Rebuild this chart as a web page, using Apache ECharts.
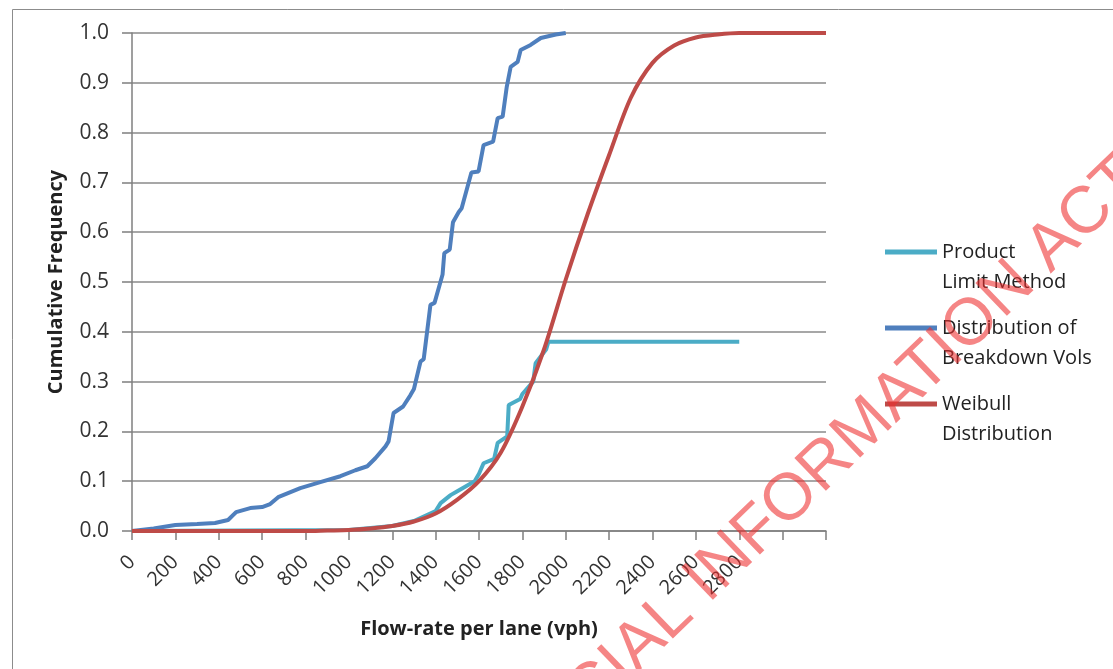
<!DOCTYPE html>
<html>
<head>
<meta charset="utf-8">
<script src="https://cdn.jsdelivr.net/npm/echarts@6/dist/echarts.min.js"></script>
<style>
html,body{margin:0;padding:0;background:#fff;}
#chart{width:1113px;height:669px;}
</style>
</head>
<body>
<div id="chart"></div>
<script>
// ---- data ----
const seriesNames = ['Product\nLimit Method', 'Distribution of\nBreakdown Vols', 'Weibull\nDistribution'];
const xTickLabels = ['0','200','400','600','800','1000','1200','1400','1600','1800','2000','2200','2400','2600','2800','',''];

// Product Limit Method (vph, cumulative frequency)
const plmX = [0,1000,1200,1300,1400,1423,1469,1500,1580,1600,1621,1670,1686,1730,1737,1790,1800,1850,1861,1910,1920,2800];
const plmY = [0,0.002,0.01,0.02,0.04,0.056,0.072,0.08,0.10,0.115,0.136,0.145,0.177,0.19,0.253,0.265,0.275,0.30,0.337,0.365,0.38,0.38];

// Distribution of Breakdown Vols
const bdX = [0,100,200,300,383,443,480,545,600,637,674,776,868,961,1030,1085,1122,1169,1183,1206,1250,1284,1300,1330,1345,1376,1395,1432,1440,1465,1480,1506,1520,1565,1598,1621,1665,1686,1709,1728,1746,1778,1792,1838,1885,1954,2000];
const bdY = [0,0.005,0.012,0.014,0.016,0.022,0.038,0.046,0.048,0.054,0.068,0.086,0.098,0.110,0.122,0.130,0.146,0.170,0.180,0.237,0.250,0.273,0.285,0.340,0.345,0.454,0.458,0.515,0.558,0.565,0.620,0.640,0.648,0.720,0.722,0.775,0.782,0.829,0.832,0.892,0.932,0.942,0.966,0.976,0.990,0.997,1.0];

// Weibull Distribution
const wbX = [0,100,200,300,400,500,600,700,800,900,1000,1100,1200,1300,1400,1500,1600,1700,1800,1900,2000,2100,2200,2300,2400,2500,2600,2700,2800,2900,3000,3100,3200];
const wbY = [0,0,0,0,0,0,0,0,0,0.001,0.002,0.005,0.010,0.019,0.035,0.063,0.100,0.157,0.250,0.365,0.505,0.635,0.755,0.870,0.940,0.975,0.991,0.997,1,1,1,1,1];

const yTickLabels = ['0.0','0.1','0.2','0.3','0.4','0.5','0.6','0.7','0.8','0.9','1.0'];
const watermarkText = 'OFFICIAL INFORMATION ACT';

function pairs(xs, ys){ return xs.map((x,i)=>[x, ys[i]]); }

const chart = echarts.init(document.getElementById('chart'), null, {renderer:'canvas'});
const FONT = 'Open Sans';
const option = {
  animation:false,
  backgroundColor:'#ffffff',
  grid:{left:132, right:287, top:33, bottom:138, containLabel:false},
  xAxis:{
    type:'value', min:0, max:3200, interval:200,
    name:'Flow-rate per lane (vph)', nameLocation:'middle', nameGap:88,
    nameTextStyle:{fontFamily:FONT, fontWeight:'bold', fontSize:20, color:'#222'},
    axisLine:{show:true, lineStyle:{color:'#7f7f7f', width:1.5}},
    axisTick:{show:true, length:9, lineStyle:{color:'#7f7f7f', width:1.5}},
    axisLabel:{rotate:45, margin:28, fontFamily:FONT, fontSize:20, color:'#333',
      formatter:(v)=> xTickLabels[Math.round(v/200)] || ''},
    splitLine:{show:false}
  },
  yAxis:{
    type:'value', min:0, max:1, interval:0.1,
    name:'Cumulative Frequency', nameLocation:'middle', nameGap:66,
    nameTextStyle:{fontFamily:FONT, fontWeight:'bold', fontSize:20, color:'#222'},
    axisLine:{show:true, lineStyle:{color:'#7f7f7f', width:1.5}},
    axisTick:{show:true, length:10, lineStyle:{color:'#7f7f7f', width:1.5}},
    axisLabel:{margin:23, fontFamily:FONT, fontSize:21, color:'#333',
      formatter:(v)=> yTickLabels[Math.round(v*10)]},
    splitLine:{show:true, lineStyle:{color:'#8a8a8a', width:1.5}}
  },
  legend:{
    orient:'vertical', left:880, top:202,
    itemWidth:52, itemHeight:5, itemGap:-14,
    icon:'rect',
    formatter:(name)=> '\n' + name,
    textStyle:{fontFamily:FONT, fontSize:20, color:'#222', lineHeight:30},
    data:seriesNames
  },
  series:[
    {name:seriesNames[0], type:'line', data:pairs(plmX,plmY), showSymbol:false,
     lineStyle:{color:'#4BACC6', width:4}, itemStyle:{color:'#4BACC6'}, z:2},
    {name:seriesNames[1], type:'line', data:pairs(bdX,bdY), showSymbol:false,
     lineStyle:{color:'#4F7FBD', width:4}, itemStyle:{color:'#4F7FBD'}, z:3},
    {name:seriesNames[2], type:'line', data:pairs(wbX,wbY), showSymbol:false, smooth:0.3,
     lineStyle:{color:'#BE4B48', width:4}, itemStyle:{color:'#BE4B48'}, z:4}
  ],
  graphic:[
    {type:'rect', left:10, top:7, shape:{width:1200, height:700}, silent:true,
     style:{fill:'none', stroke:'#8c8c8c', lineWidth:1}, z:-10},
    {type:'text', x:469, y:810, rotation:0.768, silent:true, z:100,
     style:{text:watermarkText, fontFamily:'Liberation Sans', fontSize:66,
       fill:'rgba(238,45,45,0.58)', align:'left', verticalAlign:'middle'}}
  ]
};
chart.setOption(option);
</script>
</body>
</html>
